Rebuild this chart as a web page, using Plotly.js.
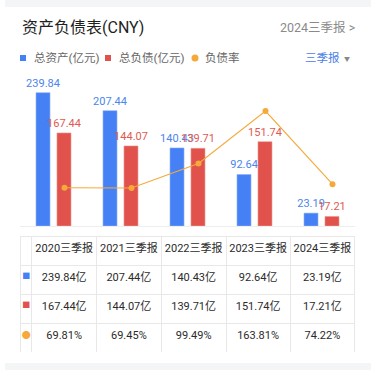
<!DOCTYPE html>
<html>
<head>
<meta charset="utf-8">
<script src="https://cdn.plot.ly/plotly-3.0.1.min.js"></script>
<style>
  html, body { margin: 0; padding: 0; background: #ffffff; }
  #chart { width: 379px; height: 382px; }
</style>
</head>
<body>
<div id="chart"></div>
<script>
// ---- data ----
const periods = ['2020三季报', '2021三季报', '2022三季报', '2023三季报', '2024三季报'];
const totalAssets = [239.84, 207.44, 140.43, 92.64, 23.19];
const totalLiabilities = [167.44, 144.07, 139.71, 151.74, 17.21];
const debtRatio = [69.81, 69.45, 99.49, 163.81, 74.22];
const seriesNames = ['总资产(亿元)', '总负债(亿元)', '负债率'];

const BLUE = '#4680f5';
const RED = '#e0524b';
const ORANGE = '#f5a93a';
const FONT = "Roboto, 'Noto Sans CJK SC', sans-serif";

const W = 379, H = 382, ML = 20, MR = 24;
const PW = W - ML - MR;
const px = x => (x - ML) / PW;
const py = y => (H - y) / H;

const barTop = 70, barBase = 226;
const y2Zero = 244.7, y2Scale = 0.816;

const traces = [
  {
    type: 'bar', name: seriesNames[0], x: periods, y: totalAssets,
    marker: { color: BLUE, line: { color: '#8fb2fa', width: 0.6 } },
    width: 0.209, offset: -0.261,
    text: totalAssets.map(v => v.toFixed(2)), textposition: 'outside',
    textfont: { color: '#4a86ec', size: 11, family: FONT },
    constraintext: 'none', cliponaxis: false, hoverinfo: 'skip'
  },
  {
    type: 'bar', name: seriesNames[1], x: periods, y: totalLiabilities,
    marker: { color: RED, line: { color: '#ee9a94', width: 0.6 } },
    width: 0.209, offset: 0.052,
    text: totalLiabilities.map(v => v.toFixed(2)), textposition: 'outside',
    textfont: { color: '#e05a52', size: 11, family: FONT },
    constraintext: 'none', cliponaxis: false, hoverinfo: 'skip'
  },
  {
    type: 'scatter', mode: 'lines+markers', name: seriesNames[2],
    x: periods, y: debtRatio, xaxis: 'x2', yaxis: 'y2',
    line: { color: ORANGE, width: 1.1 },
    marker: { color: ORANGE, size: 6 },
    cliponaxis: false, hoverinfo: 'skip'
  },
  {
    type: 'table',
    domain: { x: [0.002, 1.002], y: [py(352), py(236)] },
    columnwidth: [11.3, 64.7, 65, 65, 64.3, 64.7],
    header: {
      values: [''].concat(periods),
      height: 29,
      align: 'center',
      fill: { color: '#ffffff' },
      line: { color: '#e8e8e8', width: 1 },
      font: { family: FONT, size: 11, color: '#2b2b2b' }
    },
    cells: {
      values: [
        ['■', '■', '●'],
        ...periods.map((p, i) => [
          totalAssets[i].toFixed(2) + '亿',
          totalLiabilities[i].toFixed(2) + '亿',
          debtRatio[i].toFixed(2) + '%'
        ])
      ],
      height: 29,
      align: 'center',
      fill: { color: '#ffffff' },
      line: { color: '#e8e8e8', width: 1 },
      font: {
        family: FONT,
        size: [[8, 8, 9], 11, 11, 11, 11, 11],
        color: [[BLUE, RED, ORANGE], '#2b2b2b', '#2b2b2b', '#2b2b2b', '#2b2b2b', '#2b2b2b']
      }
    }
  }
];

const layout = {
  width: W, height: H,
  margin: { l: ML, r: MR, t: 0, b: 0, pad: 0 },
  paper_bgcolor: '#ffffff', plot_bgcolor: '#ffffff',
  showlegend: false,
  barmode: 'overlay',
  font: { family: FONT },
  xaxis: {
    type: 'category', range: [-0.5, 4.5], domain: [0, 1],
    showticklabels: false, ticks: '', showgrid: false, zeroline: false,
    showline: true, linecolor: '#eeeeee', linewidth: 1, fixedrange: true
  },
  xaxis2: {
    type: 'category', overlaying: 'x', range: [-0.664, 4.336],
    visible: false, fixedrange: true
  },
  yaxis: {
    range: [0, (barBase - barTop) / 0.556], domain: [py(barBase), py(barTop)],
    visible: false, showgrid: false, zeroline: false, fixedrange: true
  },
  yaxis2: {
    overlaying: 'y', side: 'right',
    range: [(y2Zero - barBase) / y2Scale, (y2Zero - barTop) / y2Scale],
    visible: false, showgrid: false, zeroline: false, fixedrange: true
  },
  shapes: [
    { type: 'rect', xref: 'paper', yref: 'paper', x0: px(5), x1: px(371), y0: py(7), y1: py(0),
      fillcolor: '#f4f5f7', line: { width: 0 } },
    { type: 'rect', xref: 'paper', yref: 'paper', x0: px(5), x1: px(371), y0: py(370), y1: py(363),
      fillcolor: '#f4f5f7', line: { width: 0 } },
    { type: 'rect', xref: 'paper', yref: 'paper', x0: px(20), x1: px(26), y0: py(61), y1: py(55),
      fillcolor: BLUE, line: { width: 0 } },
    { type: 'rect', xref: 'paper', yref: 'paper', x0: px(105), x1: px(111), y0: py(61), y1: py(55),
      fillcolor: RED, line: { width: 0 } },
    { type: 'circle', xref: 'paper', yref: 'paper', x0: px(191.5), x1: px(198.5), y0: py(61.5), y1: py(54.5),
      fillcolor: ORANGE, line: { width: 0 } }
  ],
  annotations: [
    { xref: 'paper', yref: 'paper', x: px(20), y: py(28), xanchor: 'left', yanchor: 'middle',
      text: '资产负债表(CNY)', showarrow: false,
      font: { family: FONT, size: 16, color: '#1f1f1f' } },
    { xref: 'paper', yref: 'paper', x: px(358), y: py(28), xanchor: 'right', yanchor: 'middle',
      text: '2024三季报 &gt;', showarrow: false,
      font: { family: FONT, size: 12.5, color: '#8a8a8a' } },
    { xref: 'paper', yref: 'paper', x: px(32), y: py(58), xanchor: 'left', yanchor: 'middle',
      text: seriesNames[0], showarrow: false,
      font: { family: FONT, size: 11.5, color: '#666666' } },
    { xref: 'paper', yref: 'paper', x: px(117), y: py(58), xanchor: 'left', yanchor: 'middle',
      text: seriesNames[1], showarrow: false,
      font: { family: FONT, size: 11.5, color: '#666666' } },
    { xref: 'paper', yref: 'paper', x: px(203), y: py(58), xanchor: 'left', yanchor: 'middle',
      text: seriesNames[2], showarrow: false,
      font: { family: FONT, size: 11.5, color: '#666666' } },
    { xref: 'paper', yref: 'paper', x: px(303), y: py(58), xanchor: 'left', yanchor: 'middle',
      text: '三季报', showarrow: false,
      font: { family: FONT, size: 11.5, color: '#4a80e8' } },
    { xref: 'paper', yref: 'paper', x: px(347), y: py(58), xanchor: 'center', yanchor: 'middle',
      text: '▼', showarrow: false,
      font: { family: FONT, size: 6, color: '#888888' } }
  ]
};

Plotly.newPlot('chart', traces, layout, { staticPlot: true, displayModeBar: false });
</script>
</body>
</html>
